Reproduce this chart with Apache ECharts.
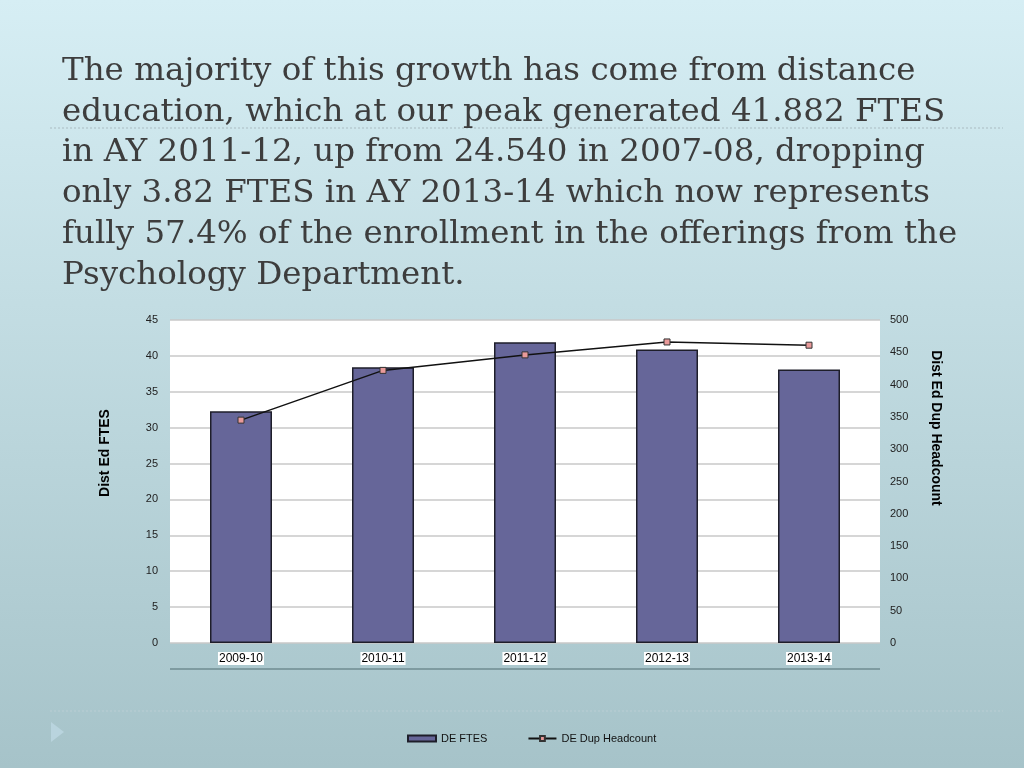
<!DOCTYPE html>
<html>
<head>
<meta charset="utf-8">
<style>
  html, body { margin: 0; padding: 0; }
  #chart { width: 1024px; height: 768px; }
</style>
<script src="https://cdn.jsdelivr.net/npm/echarts@6/dist/echarts.min.js"></script>
</head>
<body>
<div id="chart"></div>
<script>
// years on the x axis
const years = ['2009-10', '2010-11', '2011-12', '2012-13', '2013-14']
// Dist Ed FTES (bars, left axis)
const deFtes = [32.3, 38.4, 41.9, 40.9, 38.1]
// DE Dup Headcount (line, right axis)
const deHeadcount = [345, 422, 446, 466, 461]

const titleLines = [
  'The majority of this growth has come from distance',
  'education, which at our peak generated 41.882 FTES',
  'in AY 2011-12, up from 24.540 in 2007-08, dropping',
  'only 3.82 FTES in AY 2013-14 which now represents',
  'fully 57.4% of the enrollment in the offerings from the',
  'Psychology Department.'
]

const chart = echarts.init(document.getElementById('chart'))
const axisFont = { color: '#222', fontSize: 11, fontFamily: 'Liberation Sans' }

chart.setOption({
  animation: false,
  backgroundColor: {
    type: 'linear', x: 0, y: 0, x2: 0, y2: 1,
    colorStops: [
      { offset: 0, color: '#d6eef4' },
      { offset: 1, color: '#a6c3c9' }
    ]
  },
  title: {
    text: titleLines.join('\n'),
    left: 57,
    top: 46,
    textStyle: {
      fontFamily: 'DejaVu Serif',
      fontWeight: 'normal',
      fontSize: 32.5,
      lineHeight: 40.8,
      color: '#3d3d3d'
    }
  },
  grid: {
    left: 170, right: 144, top: 320, bottom: 125,
    show: true, backgroundColor: '#fff', borderWidth: 0
  },
  legend: {
    left: 402,
    top: 728,
    itemWidth: 28,
    itemHeight: 6,
    itemGap: 40,
    textStyle: { color: '#111', fontSize: 11, fontFamily: 'Liberation Sans' },
    data: [{ name: 'DE FTES', icon: 'rect' }, 'DE Dup Headcount']
  },
  xAxis: {
    type: 'category',
    data: years,
    axisLine: { show: false },
    axisTick: { show: false },
    axisLabel: {
      color: '#000', fontSize: 12, fontFamily: 'Liberation Sans',
      margin: 9, backgroundColor: '#fff', padding: [1, 1, 0, 1]
    }
  },
  yAxis: [
    {
      type: 'value', min: 0, max: 45, interval: 5,
      axisLine: { show: false }, axisTick: { show: false },
      axisLabel: Object.assign({ margin: 12 }, axisFont),
      splitLine: { lineStyle: { color: '#c8c8c8', width: 1.5 } }
    },
    {
      type: 'value', min: 0, max: 500, interval: 50,
      axisLine: { show: false }, axisTick: { show: false },
      axisLabel: Object.assign({ margin: 10 }, axisFont),
      splitLine: { show: false }
    }
  ],
  series: [
    {
      name: 'DE FTES',
      type: 'bar',
      yAxisIndex: 0,
      data: deFtes,
      barWidth: 62,
      itemStyle: { color: '#666699', borderColor: '#1e1e2a', borderWidth: 1.5 }
    },
    {
      name: 'DE Dup Headcount',
      type: 'line',
      yAxisIndex: 1,
      data: deHeadcount,
      symbol: 'rect',
      symbolSize: 6,
      lineStyle: { color: '#111', width: 1.5 },
      itemStyle: { color: '#e99a9a', borderColor: '#333', borderWidth: 1 }
    }
  ],
  graphic: [
    // dotted rule under the first title line
    { type: 'line', shape: { x1: 50, y1: 128, x2: 1003, y2: 128 },
      style: { stroke: '#a9bcc2', lineWidth: 1, lineDash: [2, 2] } },
    // bottom dotted rule
    { type: 'line', shape: { x1: 50, y1: 711, x2: 1003, y2: 711 },
      style: { stroke: '#b9ced3', lineWidth: 1, lineDash: [2, 2] } },
    // slide bullet triangle
    { type: 'polygon', shape: { points: [[51, 722], [51, 742], [64, 732]] },
      style: { fill: '#b9d4de' } },
    // rule beneath category labels
    { type: 'line', shape: { x1: 170, y1: 669, x2: 880, y2: 669 },
      style: { stroke: '#6f8b91', lineWidth: 1.5 } },
    // axis names
    { type: 'text', x: 105, y: 453, rotation: Math.PI / 2,
      style: { text: 'Dist Ed FTES', fill: '#000', font: 'bold 14px Liberation Sans',
        align: 'center', verticalAlign: 'middle' } },
    { type: 'text', x: 936, y: 428, rotation: -Math.PI / 2,
      style: { text: 'Dist Ed Dup Headcount', fill: '#000', font: 'bold 14px Liberation Sans',
        align: 'center', verticalAlign: 'middle' } }
  ]
})
</script>
</body>
</html>
